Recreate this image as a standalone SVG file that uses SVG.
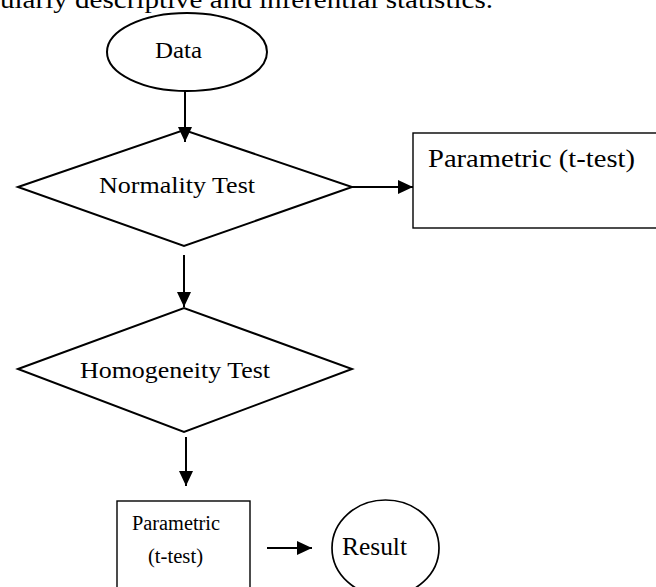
<svg xmlns="http://www.w3.org/2000/svg" width="656" height="587" viewBox="0 0 656 587">
<style>
.shape{fill:#fff;stroke:#000;stroke-width:2}
.box{fill:#fff;stroke:#000;stroke-width:1.4}
.t{font-family:"Liberation Serif","Times New Roman",serif;fill:#000}
.conn{stroke:#000;stroke-width:2;fill:none}
</style>
<defs>
<marker id="ah" markerUnits="userSpaceOnUse" markerWidth="16" markerHeight="16" viewBox="0 0 16 16" refX="15" refY="8" orient="auto">
<path d="M0,1 L15,8 L0,15 Z" fill="#000"/>
</marker>
</defs>
<text class="t" x="0" y="8" font-size="26" textLength="493" lengthAdjust="spacingAndGlyphs">ularly descriptive and inferential statistics.</text>
<g id="data">
<ellipse class="shape" cx="187" cy="52" rx="80" ry="39"/>
<text class="t" x="155" y="58" font-size="23.5" textLength="47" lengthAdjust="spacingAndGlyphs">Data</text>
</g>
<g id="normality">
<polygon class="shape" points="18,187 184,130 352,187 184,246"/>
<text class="t" x="99" y="193" font-size="23.5" textLength="156" lengthAdjust="spacingAndGlyphs">Normality Test</text>
</g>
<g id="parametric1">
<rect class="box" x="413" y="133" width="250" height="95"/>
<text class="t" x="428" y="167" font-size="26" textLength="207" lengthAdjust="spacingAndGlyphs">Parametric (t-test)</text>
</g>
<g id="homogeneity">
<polygon class="shape" points="18,369 184,308 352,369 184,432"/>
<text class="t" x="80" y="378" font-size="23.5" textLength="190" lengthAdjust="spacingAndGlyphs">Homogeneity Test</text>
</g>
<g id="parametric2">
<rect class="box" x="117" y="501" width="133" height="100"/>
<text class="t" x="132" y="530" font-size="20" textLength="88" lengthAdjust="spacingAndGlyphs">Parametric</text>
<text class="t" x="148" y="563" font-size="20" textLength="55" lengthAdjust="spacingAndGlyphs">(t-test)</text>
</g>
<g id="result">
<ellipse class="shape" cx="385.5" cy="548" rx="53.5" ry="48" style="stroke-width:1.7"/>
<text class="t" x="342" y="555" font-size="25" textLength="65" lengthAdjust="spacingAndGlyphs">Result</text>
</g>
<g id="connectors">
<line class="conn" x1="185" y1="91" x2="185" y2="142" marker-end="url(#ah)"/>
<line class="conn" x1="352" y1="187" x2="413" y2="187" marker-end="url(#ah)"/>
<line class="conn" x1="184" y1="255" x2="184" y2="307" marker-end="url(#ah)"/>
<line class="conn" x1="186" y1="437" x2="186" y2="486" marker-end="url(#ah)"/>
<line class="conn" x1="267" y1="548" x2="312" y2="548" marker-end="url(#ah)"/>
</g>
</svg>
